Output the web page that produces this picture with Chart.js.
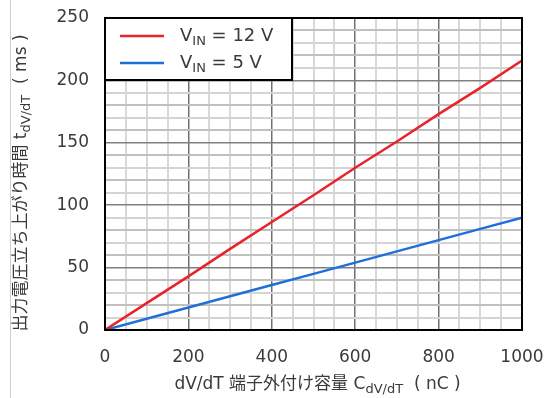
<!DOCTYPE html>
<html><head><meta charset="utf-8">
<script src="https://cdn.jsdelivr.net/npm/chart.js@4"></script>
<style>html,body{margin:0;padding:0;background:#fff;}#wrap{width:551px;height:398px;position:relative;}</style>
</head><body><div id="wrap"><canvas id="c" width="551" height="398"></canvas></div>
<script>
const capacitance = [0,100,200,300,400,500,600,700,800,900,1000];
const vin12 = [0,21.5,43,65,86.5,108,130,151,173,194,216];
const vin5 = [0,9,18,27,36,45,54,63,72,81,90];
const xTicks = [0,200,400,600,800,1000];
const yTicks = [0,50,100,150,200,250];
const seriesLabels = ['12 V','5 V'];

const FONT = '"DejaVu Sans","Noto Sans CJK JP",sans-serif';
const TXT = '#3a3a3a';

function drawRich(ctx, parts, x, y, align, big, small){
  let w = 0;
  const meas = parts.map(p=>{ctx.font=(p[1]?small:big)+'px '+FONT; const m=ctx.measureText(p[0]).width; w+=m; return m;});
  let cx = align==='center'? x - w/2 : x;
  parts.forEach((p,i)=>{
    ctx.font=(p[1]?small:big)+'px '+FONT;
    ctx.fillText(p[0], cx, y + (p[1]?Math.round(big*0.32):0));
    cx += meas[i];
  });
}

const deco = {
  id:'deco',
  beforeDraw(chart){
    const ctx = chart.ctx;
    ctx.save();
    ctx.strokeStyle='#cfcfcf'; ctx.lineWidth=1;
    ctx.beginPath(); ctx.moveTo(10.5,0); ctx.lineTo(10.5,398); ctx.stroke();
    ctx.restore();
  },
  afterDatasetsDraw(chart){
    const ctx = chart.ctx; const a = chart.chartArea;
    ctx.save();
    const lx=a.left, ly=a.top, lw=187, lh=62;
    ctx.fillStyle='#fff'; ctx.fillRect(lx,ly,lw,lh);
    ctx.strokeStyle='#000'; ctx.lineWidth=2; ctx.strokeRect(lx,ly,lw,lh);
    const ds = chart.data.datasets;
    const rows=[a.top+18,a.top+45];
    ds.forEach((d,i)=>{
      ctx.strokeStyle=d.borderColor; ctx.lineWidth=2.5;
      ctx.beginPath(); ctx.moveTo(120,rows[i]); ctx.lineTo(164,rows[i]); ctx.stroke();
      ctx.fillStyle=TXT; ctx.textBaseline='middle'; ctx.textAlign='left';
      drawRich(ctx,[['V',false],['IN',true],[' = '+seriesLabels[i],false]],180,rows[i],'left',18,13);
    });
    ctx.strokeStyle='#000'; ctx.lineWidth=2;
    ctx.strokeRect(a.left,a.top,a.right-a.left,a.bottom-a.top);
    ctx.fillStyle=TXT; ctx.textBaseline='middle'; ctx.textAlign='left';
    drawRich(ctx,[['dV/dT 端子外付け容量 C',false],['dV/dT',true],['  ( nC )',false]],(a.left+a.right)/2+4,385,'center',17,13);
    ctx.translate(22,(a.top+a.bottom)/2+9);
    ctx.rotate(-Math.PI/2);
    drawRich(ctx,[['出力電圧立ち上がり時間 t',false],['dV/dT',true],['  ( ms )',false]],0,0,'center',17,13);
    ctx.restore();
  }
};

new Chart(document.getElementById('c'),{
  type:'line',
  data:{
    labels:capacitance,
    datasets:[
      {label:'VIN = 12 V',data:capacitance.map((x,i)=>({x,y:vin12[i]})),borderColor:'#e8232a',borderWidth:2.5,pointRadius:0,tension:0,fill:false},
      {label:'VIN = 5 V',data:capacitance.map((x,i)=>({x,y:vin5[i]})),borderColor:'#1f6fd8',borderWidth:2.5,pointRadius:0,tension:0,fill:false}
    ]
  },
  options:{
    responsive:false,animation:false,
    layout:{padding:{left:0,right:29,top:18,bottom:0}},
    plugins:{legend:{display:false},tooltip:{enabled:false}},
    scales:{
      x:{type:'linear',min:0,max:1000,
        afterFit(s){s.height=68;s.paddingLeft=0;s.paddingRight=0;},
        ticks:{stepSize:50,autoSkip:false,maxRotation:0,padding:17,color:TXT,font:{family:FONT,size:17},
          callback:v=>xTicks.includes(v)?String(v):''},
        grid:{drawTicks:false,color:c=>c.tick&&c.tick.value%200===0?'#707070':'#d8d8d8',
          lineWidth:c=>c.tick&&c.tick.value%200===0?1.5:2},
        border:{display:false}},
      y:{type:'linear',min:0,max:250,
        afterFit(s){s.width=105;s.paddingTop=0;s.paddingBottom=0;},
        ticks:{stepSize:10,autoSkip:false,padding:16,color:TXT,font:{family:FONT,size:17},
          callback:v=>yTicks.includes(v)?String(v):''},
        grid:{drawTicks:false,color:c=>c.tick&&c.tick.value%50===0?'#808080':(c.tick&&c.tick.value%20===0?'#c0c0c0':'#d4d4d4'),
          lineWidth:c=>c.tick&&c.tick.value%50===0?1.5:2},
        border:{display:false}}
    }
  },
  plugins:[deco]
});
</script></body></html>
